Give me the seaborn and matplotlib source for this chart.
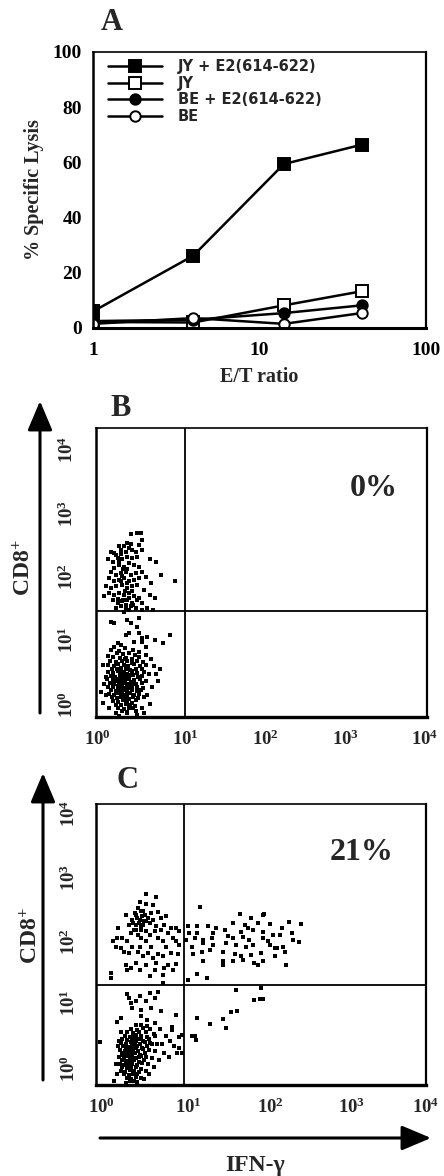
import numpy as np
import pandas as pd
import matplotlib
matplotlib.use("Agg")
import matplotlib.pyplot as plt
from matplotlib.patches import FancyArrowPatch
import seaborn as sns

# ---------------- data ----------------
# Panel A: cytotoxicity
et_ratio = [1, 4, 14, 41]
lysis_jy_e2 = [6.0, 26.2, 59.4, 66.4]
lysis_jy = [2.2, 2.0, 8.2, 13.3]
lysis_be_e2 = [2.5, 3.0, 5.4, 8.2]
lysis_be = [1.5, 3.6, 1.5, 5.4]
series_labels = ["JY + E2(614-622)", "JY", "BE + E2(614-622)", "BE"]

# Panels B / C: flow cytometry events, (log10 IFN-gamma, log10 CD8)
B_UPPER = [
    (0.42, 2.53), (0.50, 2.55), (0.54, 2.54), (0.38, 2.41), (0.52, 2.38), (0.56, 2.45),
    (0.34, 2.36), (0.28, 2.36), (0.18, 2.29), (0.22, 2.27), (0.24, 2.24), (0.30, 2.31),
    (0.40, 2.34), (0.44, 2.31), (0.48, 2.29), (0.56, 2.31), (0.14, 2.18), (0.20, 2.15),
    (0.26, 2.20), (0.32, 2.18), (0.38, 2.22), (0.44, 2.20), (0.50, 2.22), (0.65, 2.18),
    (0.73, 2.15), (0.28, 2.11), (0.34, 2.08), (0.40, 2.13), (0.46, 2.11), (0.52, 2.08),
    (0.22, 2.06), (0.18, 2.01), (0.24, 1.97), (0.30, 1.99), (0.36, 2.01), (0.42, 1.97),
    (0.48, 1.99), (0.56, 2.01), (0.79, 1.97), (0.95, 1.88), (0.16, 1.92), (0.22, 1.88),
    (0.28, 1.90), (0.34, 1.92), (0.40, 1.88), (0.46, 1.90), (0.52, 1.92), (0.60, 1.94),
    (0.67, 1.85), (0.12, 1.81), (0.18, 1.78), (0.24, 1.81), (0.32, 1.83), (0.38, 1.78),
    (0.44, 1.81), (0.50, 1.83), (0.58, 1.76), (0.10, 1.67), (0.16, 1.71), (0.22, 1.69),
    (0.28, 1.71), (0.34, 1.69), (0.40, 1.71), (0.46, 1.67), (0.52, 1.65), (0.65, 1.69),
    (0.71, 1.65), (0.20, 1.62), (0.26, 1.58), (0.32, 1.60), (0.38, 1.62), (0.44, 1.58),
    (0.50, 1.62), (0.56, 1.58), (0.24, 1.51), (0.30, 1.53), (0.36, 1.51), (0.42, 1.53),
    (0.48, 1.51), (0.56, 1.48), (0.62, 1.51), (0.69, 1.48), (0.34, 1.46), (0.40, 1.48),
    (0.30, 2.25), (0.36, 2.28), (0.33, 2.05), (0.38, 2.05), (0.31, 1.95), (0.37, 1.85),
    (0.35, 1.75), (0.40, 1.65), (0.33, 1.62), (0.45, 1.55), (0.28, 2.15), (0.42, 2.40),
    (0.36, 1.55), (0.30, 1.88), (0.44, 1.75), (0.27, 1.63),
]
B_LOWER = [
    (0.18, 1.32), (0.22, 1.30), (0.38, 1.34), (0.42, 1.30), (0.52, 1.37), (0.50, 1.25),
    (0.40, 1.16), (0.36, 1.13), (0.52, 1.16), (0.56, 1.09), (0.62, 1.11), (0.71, 1.06),
    (0.81, 1.02), (0.89, 1.13), (0.26, 1.02), (0.30, 1.00), (0.46, 1.04), (0.56, 1.04),
    (0.60, 0.97),
    (0.08, 0.72), (0.06, 0.35), (0.09, 0.20), (0.12, 0.55), (0.14, 0.85), (0.18, 0.93),
    (0.22, 0.97), (0.28, 0.92), (0.35, 0.95), (0.45, 0.93), (0.52, 0.90), (0.60, 0.86),
    (0.66, 0.80), (0.70, 0.70), (0.72, 0.60), (0.75, 0.50), (0.68, 0.42), (0.62, 0.30),
    (0.65, 0.18), (0.55, 0.12), (0.48, 0.08), (0.38, 0.05), (0.28, 0.02), (0.24, 0.06),
    (0.16, 0.12), (0.12, 0.30), (0.10, 0.45), (0.77, 0.66), (0.58, 0.05), (0.50, 0.03),
    (0.25, 0.88), (0.33, 0.87), (0.40, 0.89), (0.47, 0.86),
    (0.20, 0.83), (0.29, 0.81), (0.36, 0.82), (0.44, 0.80), (0.52, 0.83),
    (0.17, 0.77), (0.24, 0.76), (0.31, 0.78), (0.38, 0.77), (0.43, 0.75), (0.50, 0.78), (0.57, 0.76),
    (0.15, 0.72), (0.22, 0.71), (0.27, 0.73), (0.34, 0.72), (0.39, 0.70), (0.46, 0.73), (0.53, 0.71), (0.61, 0.72),
    (0.19, 0.67), (0.25, 0.66), (0.30, 0.68), (0.36, 0.67), (0.41, 0.65), (0.48, 0.67), (0.55, 0.66),
    (0.14, 0.62), (0.21, 0.61), (0.27, 0.63), (0.32, 0.62), (0.37, 0.60), (0.43, 0.63), (0.49, 0.61), (0.58, 0.62), (0.64, 0.60),
    (0.18, 0.57), (0.23, 0.56), (0.29, 0.58), (0.34, 0.57), (0.39, 0.55), (0.45, 0.58), (0.51, 0.56), (0.56, 0.57),
    (0.13, 0.52), (0.20, 0.51), (0.26, 0.53), (0.31, 0.52), (0.35, 0.50), (0.40, 0.53), (0.46, 0.51), (0.53, 0.52), (0.60, 0.50),
    (0.17, 0.47), (0.22, 0.46), (0.28, 0.48), (0.33, 0.47), (0.37, 0.45), (0.42, 0.48), (0.48, 0.46), (0.55, 0.47),
    (0.15, 0.42), (0.21, 0.41), (0.26, 0.43), (0.30, 0.42), (0.35, 0.40), (0.39, 0.43), (0.44, 0.41), (0.50, 0.42), (0.57, 0.40),
    (0.18, 0.37), (0.24, 0.36), (0.29, 0.38), (0.33, 0.37), (0.38, 0.35), (0.43, 0.38), (0.49, 0.36), (0.54, 0.37),
    (0.16, 0.32), (0.22, 0.31), (0.27, 0.33), (0.31, 0.32), (0.36, 0.30), (0.41, 0.33), (0.46, 0.31), (0.52, 0.32),
    (0.19, 0.27), (0.25, 0.26), (0.30, 0.28), (0.35, 0.27), (0.40, 0.25), (0.45, 0.28), (0.51, 0.26), (0.58, 0.27),
    (0.21, 0.22), (0.27, 0.21), (0.33, 0.23), (0.38, 0.22), (0.43, 0.20), (0.48, 0.23),
    (0.24, 0.17), (0.30, 0.16), (0.36, 0.18), (0.41, 0.17), (0.47, 0.15),
    (0.27, 0.12), (0.34, 0.11), (0.40, 0.13), (0.45, 0.12), (0.31, 0.08), (0.38, 0.07),
    (0.32, 0.45), (0.36, 0.55), (0.30, 0.35), (0.40, 0.40), (0.34, 0.62), (0.28, 0.52),
    (0.38, 0.30), (0.42, 0.58), (0.26, 0.38), (0.33, 0.25), (0.37, 0.70), (0.29, 0.66),
    (0.44, 0.47), (0.24, 0.50), (0.35, 0.80),
]
C_UPPER_LEFT = [
    (0.61, 2.72), (0.73, 2.67), (0.53, 2.60), (0.60, 2.57), (0.69, 2.56), (0.51, 2.52),
    (0.55, 2.47), (0.36, 2.42), (0.48, 2.42), (0.59, 2.42), (0.67, 2.45), (0.75, 2.46),
    (0.44, 2.35), (0.53, 2.35), (0.61, 2.33), (0.69, 2.35), (0.79, 2.38), (0.85, 2.40),
    (0.40, 2.28), (0.48, 2.28), (0.57, 2.28), (0.65, 2.31), (0.73, 2.26), (0.83, 2.28),
    (0.27, 2.24), (0.46, 2.21), (0.55, 2.21), (0.61, 2.19), (0.71, 2.19), (0.79, 2.21),
    (0.91, 2.23), (0.97, 2.24), (0.42, 2.16), (0.51, 2.14), (0.65, 2.14), (0.87, 2.16),
    (1.01, 2.19), (0.32, 2.09), (0.26, 2.09), (0.55, 2.09), (0.75, 2.09), (0.93, 2.09),
    (0.20, 2.05), (0.38, 2.05), (0.61, 2.05), (0.81, 2.05), (0.97, 2.05), (0.24, 1.97),
    (0.30, 1.95), (0.44, 1.97), (0.53, 1.96), (0.67, 1.97), (0.85, 1.96), (1.01, 2.00),
    (0.34, 1.90), (0.40, 1.88), (0.51, 1.90), (0.63, 1.88), (0.75, 1.86), (0.91, 1.88),
    (0.99, 1.86), (0.57, 1.83), (0.69, 1.81), (0.81, 1.83), (0.36, 1.71), (0.48, 1.74),
    (0.61, 1.71), (0.73, 1.74), (0.87, 1.71), (0.97, 1.72), (0.38, 1.64), (0.42, 1.67),
    (0.53, 1.64), (0.71, 1.64), (0.83, 1.67), (0.93, 1.64), (0.18, 1.59), (0.18, 1.52),
    (0.65, 1.55), (0.81, 1.56), (0.81, 1.45),
    (0.50, 2.38), (0.56, 2.40), (0.52, 2.30), (0.58, 2.33), (0.47, 2.45), (0.54, 2.25),
    (0.63, 2.38), (0.45, 2.30), (0.57, 2.48), (0.49, 2.20),
]
C_UPPER_RIGHT = [
    (1.26, 2.54), (1.75, 2.43), (2.04, 2.43), (1.88, 2.38), (1.11, 2.26), (1.22, 2.26),
    (1.36, 2.26), (1.46, 2.23), (1.66, 2.31), (1.80, 2.28), (1.96, 2.31), (2.11, 2.29),
    (2.34, 2.32), (2.48, 2.29), (1.13, 2.16), (1.23, 2.16), (1.42, 2.16), (1.56, 2.21),
    (1.76, 2.18), (1.90, 2.21), (2.02, 2.18), (2.15, 2.14), (2.25, 2.23), (2.37, 2.16),
    (1.09, 2.06), (1.20, 2.09), (1.30, 2.06), (1.40, 2.09), (1.66, 2.09), (1.78, 2.11),
    (1.86, 2.06), (2.02, 2.09), (2.23, 2.14), (2.39, 2.06), (2.46, 2.03), (1.16, 1.97),
    (1.30, 2.02), (1.42, 1.99), (1.58, 2.02), (1.70, 1.99), (1.82, 1.97), (1.90, 1.99),
    (2.11, 1.99), (2.17, 1.95), (2.27, 1.97), (1.18, 1.87), (1.28, 1.90), (1.38, 1.92),
    (1.54, 1.90), (1.68, 1.87), (1.76, 1.83), (1.88, 1.85), (2.00, 1.88), (2.19, 1.95),
    (2.29, 1.90), (1.54, 1.76), (1.66, 1.76), (1.78, 1.78), (1.92, 1.73), (2.02, 1.76),
    (2.17, 1.83), (1.30, 1.77), (1.54, 1.71), (1.96, 1.71), (2.30, 1.71), (1.22, 1.58),
    (1.34, 1.53), (1.11, 1.49), (2.03, 2.42), (1.60, 2.12), (1.84, 2.24), (2.08, 2.05),
]
C_LOWER = [
    (0.38, 1.29), (0.40, 1.24), (0.53, 1.26), (0.65, 1.31), (0.75, 1.33), (0.42, 1.17),
    (0.48, 1.19), (0.61, 1.19), (0.71, 1.24), (0.44, 1.10), (0.55, 1.07), (0.67, 1.10),
    (0.79, 1.05), (0.97, 1.00), (0.05, 0.61), (0.92, 0.83), (1.04, 0.71), (1.04, 0.46),
    (0.26, 0.90), (0.30, 0.96), (0.55, 0.98), (0.62, 0.93), (0.72, 0.88), (0.78, 0.80),
    (0.85, 0.70), (0.90, 0.62), (0.95, 0.55), (1.00, 0.52), (0.82, 0.45), (0.76, 0.35),
    (0.70, 0.25), (0.64, 0.15), (0.58, 0.08), (0.50, 0.04), (0.36, 0.03), (0.22, 0.05),
    (0.25, 0.15), (0.24, 0.30), (0.27, 0.55), (0.30, 0.75), (0.88, 0.40), (0.98, 0.45),
    (0.92, 0.78), (1.00, 0.68), (0.68, 0.58), (0.80, 0.58), (0.28, 0.62),
    (0.48, 0.85), (0.55, 0.86), (0.62, 0.84),
    (0.42, 0.80), (0.50, 0.79), (0.57, 0.81), (0.66, 0.80),
    (0.38, 0.75), (0.45, 0.74), (0.52, 0.76), (0.60, 0.75), (0.70, 0.73),
    (0.35, 0.70), (0.41, 0.69), (0.48, 0.71), (0.55, 0.70), (0.62, 0.68), (0.72, 0.70),
    (0.32, 0.65), (0.38, 0.64), (0.44, 0.66), (0.50, 0.65), (0.57, 0.63), (0.64, 0.65),
    (0.30, 0.60), (0.36, 0.59), (0.42, 0.61), (0.47, 0.60), (0.53, 0.58), (0.59, 0.61), (0.66, 0.60), (0.74, 0.59),
    (0.33, 0.55), (0.39, 0.54), (0.44, 0.56), (0.50, 0.55), (0.56, 0.53), (0.62, 0.56),
    (0.29, 0.50), (0.35, 0.49), (0.40, 0.51), (0.45, 0.50), (0.51, 0.48), (0.57, 0.51), (0.64, 0.50), (0.71, 0.49),
    (0.32, 0.45), (0.37, 0.44), (0.42, 0.46), (0.47, 0.45), (0.53, 0.43), (0.59, 0.46),
    (0.28, 0.40), (0.34, 0.39), (0.39, 0.41), (0.44, 0.40), (0.49, 0.38), (0.55, 0.41), (0.61, 0.40), (0.68, 0.39),
    (0.31, 0.35), (0.36, 0.34), (0.41, 0.36), (0.46, 0.35), (0.52, 0.33), (0.58, 0.36),
    (0.29, 0.30), (0.34, 0.29), (0.39, 0.31), (0.44, 0.30), (0.50, 0.28), (0.56, 0.31), (0.63, 0.30),
    (0.32, 0.25), (0.37, 0.24), (0.42, 0.26), (0.48, 0.25), (0.54, 0.23),
    (0.30, 0.20), (0.35, 0.19), (0.41, 0.21), (0.46, 0.20), (0.52, 0.18), (0.60, 0.20),
    (0.34, 0.15), (0.40, 0.14), (0.45, 0.16), (0.50, 0.15),
    (0.37, 0.10), (0.43, 0.09), (0.48, 0.11), (0.55, 0.10), (0.41, 0.06), (0.46, 0.05),
    (0.40, 0.47), (0.46, 0.57), (0.43, 0.33), (0.49, 0.62), (0.36, 0.52), (0.52, 0.40),
    (0.39, 0.27), (0.45, 0.68), (0.33, 0.42), (0.54, 0.66), (0.42, 0.22), (0.48, 0.52),
]
C_LOWER_RIGHT = [
    (1.70, 1.35), (2.00, 1.38), (1.91, 1.21), (1.99, 1.23), (2.02, 1.23), (1.71, 1.06),
    (1.64, 1.04), (1.54, 0.94), (1.38, 0.87), (1.58, 0.81), (1.22, 0.95), (1.16, 0.70),
    (1.20, 0.70), (1.21, 0.64),
]
# Quadrant gates (log10) and percentages
gate_B = (1.08, 1.47)
gate_C = (1.07, 1.42)
pct_B = "0%"
pct_C = "21%"
decade_labels = ["$\\mathbf{10^{0}}$", "$\\mathbf{10^{1}}$", "$\\mathbf{10^{2}}$",
                 "$\\mathbf{10^{3}}$", "$\\mathbf{10^{4}}$"]

# ---------------- style ----------------
sns.set_style("white")
SERIF = "Liberation Serif"
plt.rcParams["font.family"] = [SERIF, "DejaVu Serif"]
plt.rcParams["font.weight"] = "bold"
plt.rcParams["mathtext.fontset"] = "custom"
plt.rcParams["mathtext.rm"] = "Liberation Serif:bold"
plt.rcParams["mathtext.bf"] = "Liberation Serif:bold"
plt.rcParams["mathtext.it"] = "Liberation Serif:bold"

W, H = 444, 1176
fig = plt.figure(figsize=(W / 100, H / 100), dpi=100)


def rect(l, t, r, b):
    return [l / W, 1 - b / H, (r - l) / W, (b - t) / H]


def fig_xy(x, y):
    return x / W, 1 - y / H


# ---------------- Panel A ----------------
axA = fig.add_axes(rect(93, 52, 426, 328))
rows = []
for lab, vals in zip(series_labels, [lysis_jy_e2, lysis_jy, lysis_be_e2, lysis_be]):
    for e, v in zip(et_ratio, vals):
        rows.append({"E/T": e, "lysis": v, "series": lab})
dfA = pd.DataFrame(rows)
marker_style = {
    series_labels[0]: dict(marker="s", mfc="black", ms=8.5),
    series_labels[1]: dict(marker="s", mfc="white", ms=8.0),
    series_labels[2]: dict(marker="o", mfc="black", ms=7.5),
    series_labels[3]: dict(marker="o", mfc="white", ms=7.5),
}
for lab in series_labels:
    st = marker_style[lab]
    sns.lineplot(data=dfA[dfA["series"] == lab], x="E/T", y="lysis", ax=axA,
                 color="black", linewidth=1.8, marker=st["marker"],
                 markerfacecolor=st["mfc"], markeredgecolor="black",
                 markeredgewidth=1.4, markersize=st["ms"], label=lab)
axA.set_xscale("log")
axA.set_xlim(1, 100)
axA.set_ylim(0, 100)
axA.set_xticks([1, 10, 100])
axA.set_xticklabels(["1", "10", "100"])
axA.set_yticks([0, 20, 40, 60, 80, 100])
axA.set_yticks([10, 30, 50, 70, 90], minor=True)
axA.tick_params(axis="both", which="major", labelsize=14, length=4, width=1.2,
                direction="out", color="black", labelcolor="black")
axA.tick_params(axis="y", which="major", pad=4)
axA.tick_params(axis="x", which="major", pad=6)
axA.tick_params(axis="both", which="minor", length=3, width=1.0, direction="out")
for lbl in axA.get_xticklabels() + axA.get_yticklabels():
    lbl.set_fontweight("bold")
axA.set_xlabel("E/T ratio", fontsize=14.5, fontweight="bold", labelpad=6)
axA.set_ylabel("% Specific Lysis", fontsize=14.5, fontweight="bold", labelpad=6)
for side, lw in [("left", 1.8), ("bottom", 2.2), ("top", 1.2), ("right", 1.6)]:
    axA.spines[side].set_linewidth(lw)
    axA.spines[side].set_color("black")
leg = axA.legend(loc="upper left", bbox_to_anchor=(0.045, 0.975), frameon=False,
                 borderaxespad=0, borderpad=0, handlelength=3.7, handletextpad=1.1,
                 labelspacing=0.12,
                 prop={"family": "DejaVu Sans", "weight": "bold", "size": 10.5})

fig.text(*fig_xy(112, 22), "A", fontsize=22, fontweight="bold",
         ha="center", va="center")


# ---------------- Panels B / C ----------------
def flow_panel(ax, clusters, gate, pct, pct_xy, xt, yt, ypad):
    pts = np.array([p for c in clusters for p in c])
    df = pd.DataFrame({"ifn": 10 ** pts[:, 0], "cd8": 10 ** pts[:, 1]})
    sns.scatterplot(data=df, x="ifn", y="cd8", ax=ax, color="black", s=6,
                    linewidth=0, marker="s", legend=False)
    ax.set_xscale("log")
    ax.set_yscale("log")
    ax.set_xlim(1, 1e4)
    ax.set_ylim(1, 1e4)
    ax.axvline(10 ** gate[0], color="black", lw=1.3)
    ax.axhline(10 ** gate[1], color="black", lw=1.3)
    ax.xaxis.set_minor_locator(matplotlib.ticker.NullLocator())
    ax.yaxis.set_minor_locator(matplotlib.ticker.NullLocator())
    ax.set_xticks([10 ** v for v in xt])
    ax.set_xticklabels(decade_labels)
    ax.set_yticks([10 ** v for v in yt])
    ax.set_yticklabels(decade_labels, rotation=90, va="center")
    ax.tick_params(axis="x", length=0, pad=9, labelsize=13.5)
    ax.tick_params(axis="y", length=0, pad=ypad, labelsize=13.5)
    ax.set_xlabel("")
    ax.set_ylabel("")
    for side, lw in [("left", 1.8), ("bottom", 2.4), ("top", 1.2), ("right", 1.6)]:
        ax.spines[side].set_linewidth(lw)
        ax.spines[side].set_color("black")
    fig.text(*fig_xy(*pct_xy), pct, fontsize=23, fontweight="bold",
             ha="center", va="center")


axB = fig.add_axes(rect(96, 428, 427, 717))
flow_panel(axB, [B_UPPER, B_LOWER], gate_B, pct_B, (374, 488),
           [0.02, 1.08, 2.05, 3.02, 3.97], [0.17, 1.07, 1.94, 2.82, 3.70], 14)

axC = fig.add_axes(rect(96, 804, 426, 1085))
flow_panel(axC, [C_UPPER_LEFT, C_UPPER_RIGHT, C_LOWER, C_LOWER_RIGHT], gate_C, pct_C,
           (362, 853), [0.07, 1.12, 2.12, 3.10, 4.0], [0.24, 1.17, 2.04, 2.96, 3.87], 12)

fig.text(*fig_xy(121, 409), "B", fontsize=22, fontweight="bold", ha="center", va="center")
fig.text(*fig_xy(127, 780), "C", fontsize=22, fontweight="bold", ha="center", va="center")

for (cx, cy) in [(24, 568), (31, 936)]:
    fig.text(*fig_xy(cx, cy), "$\\mathbf{CD8^{+}}$", fontsize=17, rotation=90,
             ha="center", va="center")
fig.text(*fig_xy(255, 1165), "IFN-γ", fontsize=17, fontweight="bold",
         ha="center", va="center")


def arrow(p0, p1):
    a = FancyArrowPatch(fig_xy(*p0), fig_xy(*p1), transform=fig.transFigure,
                        arrowstyle="-|>,head_length=0.9,head_width=0.38",
                        mutation_scale=20, lw=2.2, color="black",
                        shrinkA=0, shrinkB=0)
    fig.add_artist(a)


arrow((40, 713), (40, 401))
arrow((43, 1080), (43, 773))
arrow((100, 1138), (431, 1138))

fig.savefig("out.png", dpi=100)
